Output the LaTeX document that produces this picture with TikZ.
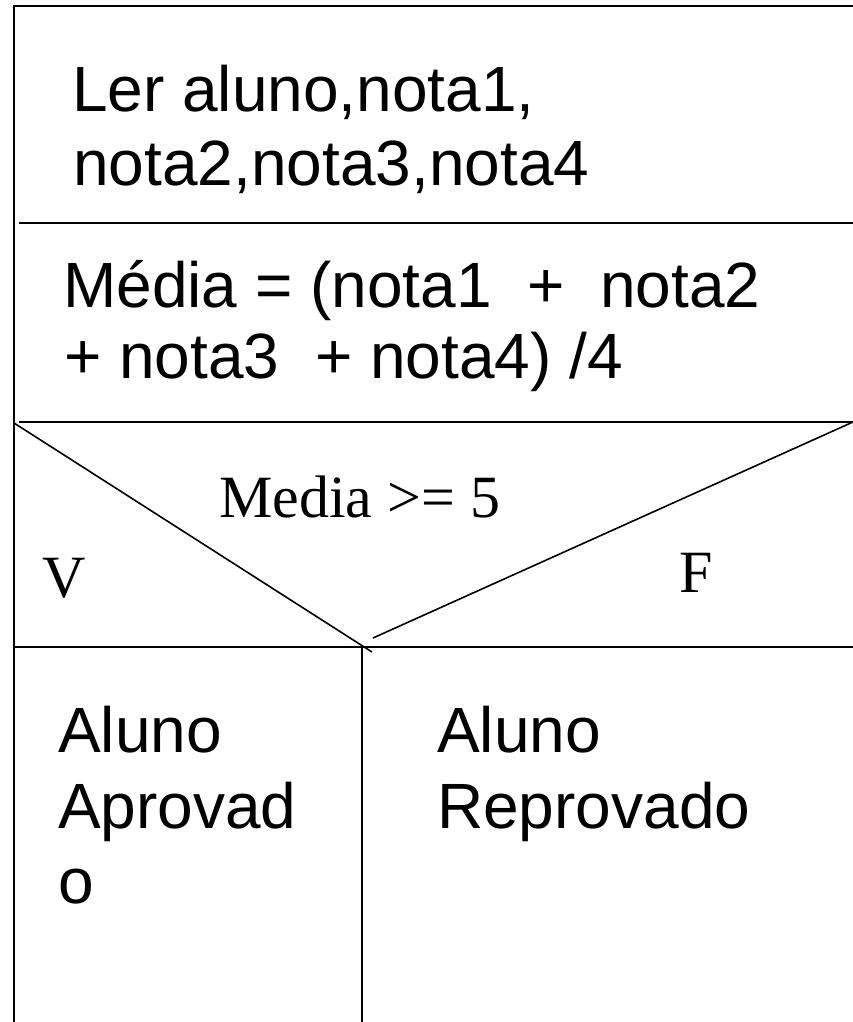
\documentclass[tikz,border=0pt]{standalone}
\usepackage{fontspec}
\setmainfont{Liberation Sans}
\newfontfamily\timesf{Liberation Serif}
\begin{document}
\begin{tikzpicture}[x=1pt,y=-1pt,
  rule/.style={line width=2pt,black},
  thin/.style={line width=1.6pt,black},
  sans/.style={anchor=base west,inner sep=0pt,font=\fontsize{64}{73}\selectfont},
  serif/.style={anchor=base west,inner sep=0pt,font=\timesf\fontsize{60}{70}\selectfont}]
\useasboundingbox (0,0) rectangle (853,1022);
% frame
\coordinate (tl) at (14,6);
\coordinate (tr) at (853,6);
\coordinate (bl) at (14,1022);
\draw[rule] (tr) -- (tl) -- (bl);
% separators
\coordinate (s1a) at (19,223);  \coordinate (s1b) at (853,223);
\coordinate (s2a) at (19,422);  \coordinate (s2b) at (853,422);
\coordinate (s3a) at (14,647);  \coordinate (s3b) at (853,647);
\draw[rule] (s1a) -- (s1b);
\draw[rule] (s2a) -- (s2b);
\draw[rule] (s3a) -- (s3b);
% decision diagonals
\coordinate (dl) at (14,423);  \coordinate (dlm) at (372,652);
\coordinate (dr) at (853,422); \coordinate (drm) at (373,638);
\draw[thin] (dl) -- (dlm);
\draw[thin] (dr) -- (drm);
% vertical split
\coordinate (va) at (362,647); \coordinate (vb) at (362,1022);
\draw[thin] (va) -- (vb);
% texts
\node[sans] (ler1) at (72,112) {Ler aluno,nota1,};
\node[sans] (ler2) at (73,185) {nota2,nota3,nota4};
\node[sans] (med1) at (63,307) {Média = (nota1\ \ +\ \ nota2};
\node[sans] (med2) at (64,378) {+ nota3\ \ + nota4) /4};
\node[serif] (cond) at (219,517) {Media >= 5};
\node[serif] (v) at (42,597) {V};
\node[serif] (f) at (679,592) {F};
\node[sans] (ap1) at (58,752) {Aluno};
\node[sans] (ap2) at (58,828) {Aprovad};
\node[sans] (ap3) at (58,903) {o};
\node[sans] (rp1) at (437,752) {Aluno};
\node[sans] (rp2) at (437,828) {Reprovado};
\end{tikzpicture}
\end{document}
